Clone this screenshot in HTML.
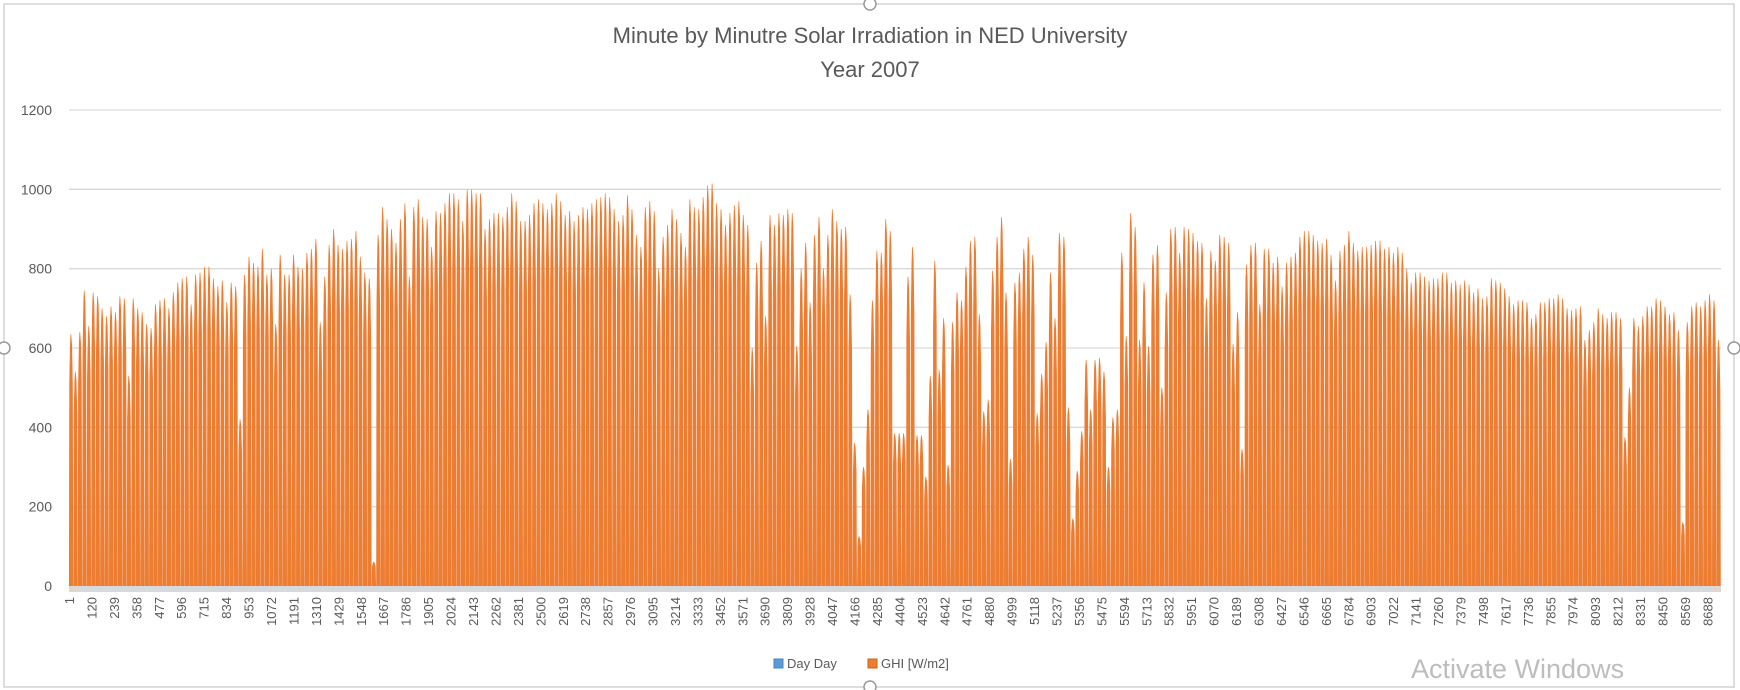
<!DOCTYPE html>
<html><head><meta charset="utf-8"><style>
html,body{margin:0;padding:0;background:#fff;}
svg{display:block;font-family:"Liberation Sans",sans-serif;}
</style></head><body>
<svg id="chart" width="1740" height="690" viewBox="0 0 1740 690">
<rect x="4" y="4" width="1730" height="683" fill="#fff" stroke="#c8c8c8" stroke-width="1.2"/>
<text x="870" y="43" text-anchor="middle" font-size="22" fill="#595959">Minute by Minutre Solar Irradiation in NED University</text>
<text x="870" y="77" text-anchor="middle" font-size="22" fill="#595959">Year 2007</text>
<g id="grid"></g>
<g id="bars"></g>
<rect x="69" y="586" width="1652" height="6" fill="#d9d9d9"/>
<g id="xlabels"></g>
<g>
<rect x="774" y="659" width="9" height="9" fill="#5b9bd5" stroke="#4a86c0"/>
<text x="787" y="668" font-size="13" fill="#595959">Day Day</text>
<rect x="868" y="659" width="9" height="9" fill="#ed7d31" stroke="#c8651e"/>
<text x="881" y="668" font-size="13" fill="#595959">GHI [W/m2]</text>
</g>
<text x="1411" y="678" font-size="27" fill="#bdbdbd">Activate Windows</text>
<circle cx="4" cy="348" r="6" fill="#fff" stroke="#999" stroke-width="1.5"/>
<circle cx="1734" cy="348" r="6" fill="#fff" stroke="#999" stroke-width="1.5"/>
<circle cx="870" cy="4" r="6" fill="#fff" stroke="#999" stroke-width="1.5"/>
<circle cx="870" cy="687" r="6" fill="#fff" stroke="#999" stroke-width="1.5"/>
</svg>
<script>
const yTicks = [0,200,400,600,800,1000,1200];
const dailyPeaks = [
635,540,640,745,655,740,730,700,680,705,690,730,725,530,725,700,690,660,650,710,720,725,700,740,765,775,780,710,785,790,805,805,775,755,770,715,765,755,420,785,830,815,805,850,785,800,660,835,785,785,835,805,800,840,850,875,665,780,860,900,860,850,870,875,895,830,790,775,60,885,955,925,900,865,925,965,780,955,975,930,925,855,945,940,965,990,990,975,920,1000,1000,990,
990,900,925,940,940,930,955,990,970,920,920,935,965,975,965,950,965,990,970,935,945,920,935,955,950,965,975,980,990,980,950,920,935,985,950,885,855,955,970,945,800,880,910,950,925,890,855,975,955,950,980,1010,1015,965,950,910,940,960,970,935,910,600,815,870,680,935,910,940,935,950,940,605,800,865,715,885,930,800,885,950,920,900,905,735,360,125,300,445,720,845,840,925,895,385,385,
385,780,855,380,380,275,530,820,545,675,305,665,740,720,805,870,880,685,440,470,795,880,930,740,320,765,790,850,880,835,435,535,615,790,675,890,880,450,170,290,390,570,445,570,575,540,300,425,445,840,630,940,905,620,765,605,835,860,500,740,900,905,840,905,900,890,870,865,725,845,820,885,880,865,610,690,345,810,860,865,710,850,850,815,830,755,815,830,840,880,895,895,885,870,865,875,835,
770,845,860,895,865,845,855,855,860,870,870,850,855,840,855,840,800,765,790,790,780,770,775,775,790,790,765,770,760,770,760,740,750,725,730,775,770,765,750,730,710,720,720,715,675,685,715,715,725,725,735,725,700,695,700,705,620,645,665,700,685,675,690,690,675,375,500,675,655,680,705,705,725,720,705,685,690,645,160,665,705,715,705,720,735,720,620
];
const xLabelStart = 1, xLabelStep = 119, xLabelCount = 74;
const NS = "http://www.w3.org/2000/svg";
const X0 = 69, XW = 1652, PXH = 0.1886, Y0 = 586, PXV = 476/1200;
const yS = v => Y0 - v*PXV;
const xH = h => X0 + (h-1)*PXH;
const dayW = XW/dailyPeaks.length;
const xD = d => X0 + d*dayW;
const grid = document.getElementById('grid');
yTicks.forEach(t=>{
  if(t>0){
    const l=document.createElementNS(NS,'line');
    l.setAttribute('x1',69);l.setAttribute('x2',1721);
    l.setAttribute('y1',yS(t));l.setAttribute('y2',yS(t));
    l.setAttribute('stroke','#d9d9d9');l.setAttribute('stroke-width','1.3');
    
    
    grid.appendChild(l);
  }
  const tx=document.createElementNS(NS,'text');
  tx.setAttribute('x',52);tx.setAttribute('y',yS(t)+5);
  tx.setAttribute('text-anchor','end');tx.setAttribute('font-size','14');tx.setAttribute('fill','#595959');
  tx.textContent=t;
  
  
  grid.appendChild(tx);
});
const prof=[[0.06,0],[0.13,0.8],[0.3,0.96],[0.42,1],[0.6,0.96],[0.78,0.8],[0.88,0]];
const bars=document.getElementById('bars');
dailyPeaks.forEach((p,i)=>{
  const pts=prof.map(([f,k])=>xD(i+f).toFixed(2)+','+yS(p*k).toFixed(2)).join(' ');
  const pg=document.createElementNS(NS,'polygon');
  pg.setAttribute('points',pts);
  pg.setAttribute('fill','#ed7d31');pg.setAttribute('stroke','#ea7a30');pg.setAttribute('stroke-width','0.6');
  
  
  bars.appendChild(pg);
});
const xl=document.getElementById('xlabels');
for(let i=0;i<xLabelCount;i++){
  const v=xLabelStart+i*xLabelStep;
  const t=document.createElementNS(NS,'text');
  const x=xH(v)+5;
  t.setAttribute('transform','translate('+x.toFixed(1)+',597) rotate(-90)');
  t.setAttribute('text-anchor','end');t.setAttribute('font-size','13');t.setAttribute('fill','#595959');
  t.textContent=v;
  
  
  xl.appendChild(t);
}
</script>
</body></html>
